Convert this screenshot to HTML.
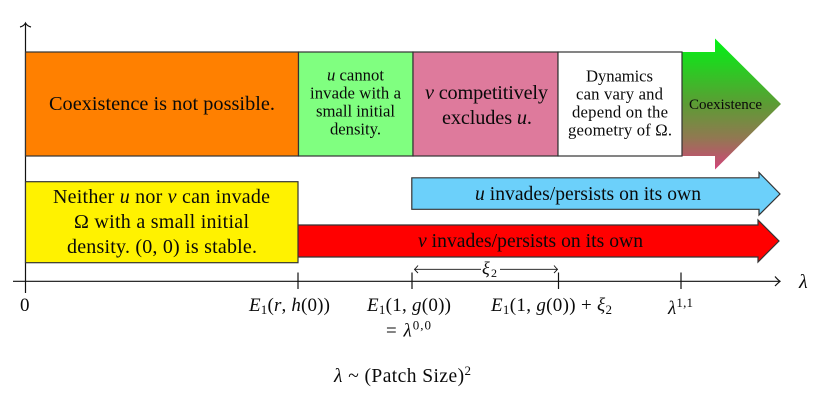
<!DOCTYPE html>
<html><head><meta charset="utf-8">
<style>
html,body{margin:0;padding:0;background:#fff}
svg{display:block}
text{font-family:"Liberation Serif",serif;fill:#0a0a0a;text-anchor:start}
.i{font-style:italic}
</style></head>
<body>
<svg width="823" height="402" viewBox="0 0 823 402" xmlns="http://www.w3.org/2000/svg">
<defs>
<linearGradient id="g" x1="0" y1="0" x2="0" y2="1">
<stop offset="0" stop-color="#00f414"/>
<stop offset="0.5" stop-color="#5c9c34"/>
<stop offset="0.75" stop-color="#8f7a50"/>
<stop offset="1" stop-color="#d2447a"/>
</linearGradient>
</defs>

<!-- gradient arrow -->
<polygon points="682,52 715,52 715,38.5 781,104 715,169.5 715,156 682,156" fill="url(#g)"/>

<!-- axes -->
<g stroke="#111" stroke-width="1.2" fill="none">
<line x1="25.5" y1="293" x2="25.5" y2="24"/>
<path d="M20,27 Q24,26 25.5,23 Q27,26 31,27"/>
<line x1="13" y1="281.3" x2="779" y2="281.3"/>
<path d="M775,276.5 Q778,280 780,281.3 Q778,283 775,286"/>
<line x1="298" y1="272.5" x2="298" y2="289"/>
<line x1="412" y1="272.5" x2="412" y2="289"/>
<line x1="558.5" y1="272.5" x2="558.5" y2="289"/>
<line x1="681" y1="272.5" x2="681" y2="289"/>
</g>

<!-- top boxes -->
<g stroke="#333" stroke-width="1.2">
<rect x="25.5" y="52" width="273" height="104" fill="#ff8000"/>
<rect x="298.5" y="52" width="114.5" height="104" fill="#80ff80"/>
<rect x="413" y="52" width="145" height="104" fill="#de7a9c"/>
<rect x="558" y="52" width="124" height="104" fill="#fff"/>
</g>

<!-- blue arrow -->
<polygon points="411.8,177.8 759,177.8 759,172.5 780,194 759,215 759,209.3 411.8,209.3" fill="#6cd0fa" stroke="#333" stroke-width="1.2"/>
<!-- red arrow -->
<polygon points="297,225 758,225 758,220 779,241 758,262 758,257 297,257" fill="#ff0000" stroke="#333" stroke-width="1.2"/>
<!-- yellow box -->
<rect x="25.5" y="181.7" width="272.5" height="81" fill="#fff200" stroke="#333" stroke-width="1.2"/>

<!-- xi arrow -->
<g stroke="#111" stroke-width="0.9" fill="none">
<line x1="415" y1="269.3" x2="481" y2="269.3"/>
<line x1="500" y1="269.3" x2="557" y2="269.3"/>
<path d="M418,265.5 Q416,268 414.5,269.3 Q416,271 418,273"/>
<path d="M554,265.5 Q556,268 557.5,269.3 Q556,271 554,273"/>
</g>

<!-- box labels -->
<text x="49" y="110" font-size="20.3" textLength="226">Coexistence is not possible.</text>

<text x="327" y="80.5" font-size="16.7" textLength="57"><tspan class="i">u</tspan> cannot</text>
<text x="310" y="98.5" font-size="16.7" textLength="91">invade with a</text>
<text x="316" y="116.5" font-size="16.7" textLength="79">small initial</text>
<text x="330" y="134.5" font-size="16.7" textLength="51">density.</text>

<text x="425" y="99" font-size="20.3" textLength="123"><tspan class="i">v</tspan> competitively</text>
<text x="442" y="124" font-size="20.3" textLength="90">excludes <tspan class="i">u</tspan>.</text>

<text x="586" y="81.5" font-size="16.7" textLength="67">Dynamics</text>
<text x="576" y="99.5" font-size="16.7" textLength="87">can vary and</text>
<text x="572" y="117.5" font-size="16.7" textLength="96">depend on the</text>
<text x="568" y="135.5" font-size="16.7" textLength="104">geometry of Ω.</text>

<text x="689" y="109" font-size="15" textLength="73">Coexistence</text>

<text x="53" y="203" font-size="20" textLength="217">Neither <tspan class="i">u</tspan> nor <tspan class="i">v</tspan> can invade</text>
<text x="74" y="228" font-size="20" textLength="175">Ω with a small initial</text>
<text x="67" y="253" font-size="20" textLength="190">density. (0, 0) is stable.</text>

<text x="475" y="200" font-size="19.6" textLength="226"><tspan class="i">u</tspan> invades/persists on its own</text>
<text x="418" y="247" font-size="19.6" textLength="225"><tspan class="i">v</tspan> invades/persists on its own</text>

<!-- axis labels -->
<text x="20" y="311" font-size="19">0</text>
<text x="249" y="311" font-size="19" textLength="81"><tspan class="i">E</tspan><tspan font-size="13" dy="3">1</tspan><tspan dy="-3">(</tspan><tspan class="i">r</tspan>, <tspan class="i">h</tspan>(0))</text>
<text x="367" y="311" font-size="19" textLength="84"><tspan class="i">E</tspan><tspan font-size="13" dy="3">1</tspan><tspan dy="-3">(1, </tspan><tspan class="i">g</tspan>(0))</text>
<text x="386" y="336.5" font-size="19" textLength="45">= <tspan class="i">λ</tspan><tspan font-size="13" dy="-7">0,0</tspan></text>
<text x="491" y="311" font-size="19" textLength="121"><tspan class="i">E</tspan><tspan font-size="13" dy="3">1</tspan><tspan dy="-3">(1, </tspan><tspan class="i">g</tspan>(0)) + <tspan class="i">ξ</tspan><tspan font-size="13" dy="3">2</tspan></text>
<text x="668" y="314" font-size="19" textLength="25"><tspan class="i">λ</tspan><tspan font-size="13" dy="-7">1,1</tspan></text>
<text x="799" y="288" font-size="20" class="i">λ</text>
<text x="482" y="274" font-size="18" textLength="15"><tspan class="i">ξ</tspan><tspan font-size="12" dy="3">2</tspan></text>
<text x="334" y="382" font-size="19.5" textLength="137"><tspan class="i">λ</tspan> ~ (Patch Size)<tspan font-size="13" dy="-7">2</tspan></text>
</svg>
</body></html>
